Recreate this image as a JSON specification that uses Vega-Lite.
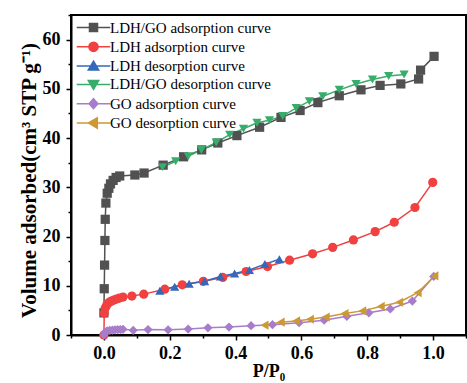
{
  "$schema": "https://vega.github.io/schema/vega-lite/v6.json",
  "width": 395,
  "height": 320,
  "autosize": {"type": "none"},
  "padding": {"left": 71, "top": 15, "right": 1, "bottom": 48},
  "background": "white",
  "config": {
    "view": {"stroke": "black", "strokeWidth": 2},
    "font": "Liberation Serif",
    "axis": {
      "domainColor": "black", "domainWidth": 2,
      "tickColor": "black", "tickWidth": 1.5,
      "grid": false,
      "labelFont": "Liberation Serif", "labelFontWeight": "bold", "labelFontSize": 18, "labelColor": "black",
      "titleFont": "Liberation Serif", "titleFontWeight": "bold", "titleFontSize": 18, "titleColor": "black"
    }
  },
  "data": {
    "values": [
      {"series": "LDH/GO adsorption curve", "x": 0.000, "y": 4.5},
      {"series": "LDH/GO adsorption curve", "x": 0.001, "y": 9.4},
      {"series": "LDH/GO adsorption curve", "x": 0.002, "y": 14.2},
      {"series": "LDH/GO adsorption curve", "x": 0.003, "y": 19.2},
      {"series": "LDH/GO adsorption curve", "x": 0.004, "y": 23.5},
      {"series": "LDH/GO adsorption curve", "x": 0.006, "y": 26.8},
      {"series": "LDH/GO adsorption curve", "x": 0.010, "y": 28.8},
      {"series": "LDH/GO adsorption curve", "x": 0.015, "y": 29.8},
      {"series": "LDH/GO adsorption curve", "x": 0.020, "y": 30.7},
      {"series": "LDH/GO adsorption curve", "x": 0.028, "y": 31.4},
      {"series": "LDH/GO adsorption curve", "x": 0.037, "y": 32.0},
      {"series": "LDH/GO adsorption curve", "x": 0.048, "y": 32.3},
      {"series": "LDH/GO adsorption curve", "x": 0.094, "y": 32.5},
      {"series": "LDH/GO adsorption curve", "x": 0.122, "y": 32.9},
      {"series": "LDH/GO adsorption curve", "x": 0.180, "y": 34.5},
      {"series": "LDH/GO adsorption curve", "x": 0.242, "y": 36.2},
      {"series": "LDH/GO adsorption curve", "x": 0.297, "y": 37.6},
      {"series": "LDH/GO adsorption curve", "x": 0.346, "y": 39.0},
      {"series": "LDH/GO adsorption curve", "x": 0.404, "y": 40.5},
      {"series": "LDH/GO adsorption curve", "x": 0.473, "y": 42.2},
      {"series": "LDH/GO adsorption curve", "x": 0.538, "y": 44.2},
      {"series": "LDH/GO adsorption curve", "x": 0.596, "y": 45.6},
      {"series": "LDH/GO adsorption curve", "x": 0.650, "y": 47.2},
      {"series": "LDH/GO adsorption curve", "x": 0.715, "y": 48.6},
      {"series": "LDH/GO adsorption curve", "x": 0.781, "y": 49.8},
      {"series": "LDH/GO adsorption curve", "x": 0.839, "y": 50.7},
      {"series": "LDH/GO adsorption curve", "x": 0.902, "y": 51.0},
      {"series": "LDH/GO adsorption curve", "x": 0.956, "y": 52.0},
      {"series": "LDH/GO adsorption curve", "x": 0.962, "y": 53.8},
      {"series": "LDH/GO adsorption curve", "x": 1.003, "y": 56.6},

      {"series": "LDH adsorption curve", "x": 0.000, "y": 0.0},
      {"series": "LDH adsorption curve", "x": 0.001, "y": 4.4},
      {"series": "LDH adsorption curve", "x": 0.004, "y": 5.5},
      {"series": "LDH adsorption curve", "x": 0.008, "y": 6.0},
      {"series": "LDH adsorption curve", "x": 0.012, "y": 6.4},
      {"series": "LDH adsorption curve", "x": 0.017, "y": 6.7},
      {"series": "LDH adsorption curve", "x": 0.023, "y": 6.9},
      {"series": "LDH adsorption curve", "x": 0.030, "y": 7.1},
      {"series": "LDH adsorption curve", "x": 0.038, "y": 7.3},
      {"series": "LDH adsorption curve", "x": 0.047, "y": 7.5},
      {"series": "LDH adsorption curve", "x": 0.058, "y": 7.7},
      {"series": "LDH adsorption curve", "x": 0.085, "y": 7.9},
      {"series": "LDH adsorption curve", "x": 0.121, "y": 8.3},
      {"series": "LDH adsorption curve", "x": 0.185, "y": 9.3},
      {"series": "LDH adsorption curve", "x": 0.238, "y": 10.2},
      {"series": "LDH adsorption curve", "x": 0.302, "y": 10.9},
      {"series": "LDH adsorption curve", "x": 0.361, "y": 11.7},
      {"series": "LDH adsorption curve", "x": 0.432, "y": 12.9},
      {"series": "LDH adsorption curve", "x": 0.497, "y": 13.9},
      {"series": "LDH adsorption curve", "x": 0.564, "y": 15.2},
      {"series": "LDH adsorption curve", "x": 0.634, "y": 16.5},
      {"series": "LDH adsorption curve", "x": 0.695, "y": 17.8},
      {"series": "LDH adsorption curve", "x": 0.758, "y": 19.3},
      {"series": "LDH adsorption curve", "x": 0.824, "y": 21.0},
      {"series": "LDH adsorption curve", "x": 0.882, "y": 22.9},
      {"series": "LDH adsorption curve", "x": 0.945, "y": 25.9},
      {"series": "LDH adsorption curve", "x": 0.999, "y": 31.0},

      {"series": "LDH desorption curve", "x": 0.170, "y": 9.0},
      {"series": "LDH desorption curve", "x": 0.215, "y": 9.8},
      {"series": "LDH desorption curve", "x": 0.259, "y": 10.4},
      {"series": "LDH desorption curve", "x": 0.306, "y": 10.9},
      {"series": "LDH desorption curve", "x": 0.354, "y": 11.9},
      {"series": "LDH desorption curve", "x": 0.397, "y": 12.5},
      {"series": "LDH desorption curve", "x": 0.442, "y": 13.2},
      {"series": "LDH desorption curve", "x": 0.489, "y": 14.4},
      {"series": "LDH desorption curve", "x": 0.533, "y": 15.4},

      {"series": "LDH/GO desorption curve", "x": 0.178, "y": 34.1},
      {"series": "LDH/GO desorption curve", "x": 0.218, "y": 35.3},
      {"series": "LDH/GO desorption curve", "x": 0.256, "y": 36.3},
      {"series": "LDH/GO desorption curve", "x": 0.296, "y": 37.6},
      {"series": "LDH/GO desorption curve", "x": 0.341, "y": 39.1},
      {"series": "LDH/GO desorption curve", "x": 0.382, "y": 40.7},
      {"series": "LDH/GO desorption curve", "x": 0.424, "y": 41.9},
      {"series": "LDH/GO desorption curve", "x": 0.465, "y": 43.1},
      {"series": "LDH/GO desorption curve", "x": 0.503, "y": 43.6},
      {"series": "LDH/GO desorption curve", "x": 0.543, "y": 44.5},
      {"series": "LDH/GO desorption curve", "x": 0.584, "y": 46.1},
      {"series": "LDH/GO desorption curve", "x": 0.624, "y": 47.5},
      {"series": "LDH/GO desorption curve", "x": 0.665, "y": 48.5},
      {"series": "LDH/GO desorption curve", "x": 0.715, "y": 49.8},
      {"series": "LDH/GO desorption curve", "x": 0.766, "y": 51.0},
      {"series": "LDH/GO desorption curve", "x": 0.816, "y": 51.9},
      {"series": "LDH/GO desorption curve", "x": 0.865, "y": 52.6},
      {"series": "LDH/GO desorption curve", "x": 0.912, "y": 52.9},

      {"series": "GO adsorption curve", "x": 0.000, "y": 0.0},
      {"series": "GO adsorption curve", "x": 0.004, "y": 0.6},
      {"series": "GO adsorption curve", "x": 0.010, "y": 0.85},
      {"series": "GO adsorption curve", "x": 0.018, "y": 0.95},
      {"series": "GO adsorption curve", "x": 0.026, "y": 1.0},
      {"series": "GO adsorption curve", "x": 0.034, "y": 1.05},
      {"series": "GO adsorption curve", "x": 0.042, "y": 1.1},
      {"series": "GO adsorption curve", "x": 0.050, "y": 1.1},
      {"series": "GO adsorption curve", "x": 0.058, "y": 1.15},
      {"series": "GO adsorption curve", "x": 0.089, "y": 0.95},
      {"series": "GO adsorption curve", "x": 0.134, "y": 1.1},
      {"series": "GO adsorption curve", "x": 0.195, "y": 1.05},
      {"series": "GO adsorption curve", "x": 0.256, "y": 1.2},
      {"series": "GO adsorption curve", "x": 0.316, "y": 1.45},
      {"series": "GO adsorption curve", "x": 0.380, "y": 1.6},
      {"series": "GO adsorption curve", "x": 0.447, "y": 1.9},
      {"series": "GO adsorption curve", "x": 0.512, "y": 2.1},
      {"series": "GO adsorption curve", "x": 0.593, "y": 2.5},
      {"series": "GO adsorption curve", "x": 0.669, "y": 3.0},
      {"series": "GO adsorption curve", "x": 0.738, "y": 3.8},
      {"series": "GO adsorption curve", "x": 0.805, "y": 4.5},
      {"series": "GO adsorption curve", "x": 0.870, "y": 5.3},
      {"series": "GO adsorption curve", "x": 0.937, "y": 6.9},
      {"series": "GO adsorption curve", "x": 1.002, "y": 11.9},

      {"series": "GO desorption curve", "x": 0.488, "y": 2.0},
      {"series": "GO desorption curve", "x": 0.537, "y": 2.6},
      {"series": "GO desorption curve", "x": 0.584, "y": 2.85},
      {"series": "GO desorption curve", "x": 0.626, "y": 3.2},
      {"series": "GO desorption curve", "x": 0.674, "y": 3.65},
      {"series": "GO desorption curve", "x": 0.731, "y": 4.35},
      {"series": "GO desorption curve", "x": 0.785, "y": 4.9},
      {"series": "GO desorption curve", "x": 0.841, "y": 5.8},
      {"series": "GO desorption curve", "x": 0.897, "y": 6.65},
      {"series": "GO desorption curve", "x": 0.953, "y": 8.6},
      {"series": "GO desorption curve", "x": 1.004, "y": 12.0}
    ]
  },
  "encoding": {
    "x": {
      "field": "x", "type": "quantitative",
      "scale": {"domain": [-0.1, 1.1], "nice": false, "zero": false},
      "axis": {
        "title": "P/P₀",
        "values": [-0.1, 0, 0.1, 0.2, 0.3, 0.4, 0.5, 0.6, 0.7, 0.8, 0.9, 1.0, 1.1],
        "labelExpr": "(abs(round(datum.value*10)) % 2 == 0) && datum.value > -0.05 && datum.value < 1.05 ? format(datum.value, '.1f') : ''",
        "tickSize": {"condition": {"test": "abs(round(datum.value*10)) % 2 == 1", "value": 3}, "value": 5},
        "labelPadding": 4,
        "titlePadding": 0
      }
    },
    "y": {
      "field": "y", "type": "quantitative",
      "scale": {"domain": [0, 65], "nice": false},
      "axis": {
        "title": "Volume adsorbed(cm³ STP g⁻¹)",
        "titleFontSize": 21,
        "titleY": 165,
        "values": [0, 5, 10, 15, 20, 25, 30, 35, 40, 45, 50, 55, 60, 65],
        "labelExpr": "round(datum.value) % 10 == 0 ? datum.label : ''",
        "tickSize": {"condition": {"test": "round(datum.value) % 10 != 0", "value": 3}, "value": 5},
        "labelPadding": 6,
        "titlePadding": 3
      }
    },
    "color": {
      "field": "series", "type": "nominal",
      "scale": {
        "domain": ["LDH/GO adsorption curve", "LDH adsorption curve", "LDH desorption curve", "LDH/GO desorption curve", "GO adsorption curve", "GO desorption curve"],
        "range": ["#515151", "#F14040", "#3567BA", "#37AD6B", "#A77DCB", "#CC9933"]
      },
      "legend": {
        "title": null,
        "orient": "none",
        "legendX": 15,
        "legendY": 5,
        "padding": 0,
        "symbolSize": 64,
        "labelFont": "Liberation Serif",
        "labelFontSize": 15,
        "labelColor": "black",
        "labelLimit": 400,
        "labelOffset": 9,
        "rowPadding": 2.3,
        "encode": {
          "symbols": {
            "update": {
              "shape": {"signal": "datum.value == 'LDH/GO adsorption curve' ? 'M-4.2,0H4.2M-1,-1H1V1H-1Z' : datum.value == 'LDH adsorption curve' ? 'M-4.2,0H4.2M1.15,0A1.15,1.15,0,1,1,-1.15,0A1.15,1.15,0,1,1,1.15,0Z' : datum.value == 'LDH desorption curve' ? 'M-4.2,0H4.2M0,-1.25L1.3,0.95H-1.3Z' : datum.value == 'LDH/GO desorption curve' ? 'M-4.2,0H4.2M0,1.25L1.3,-0.95H-1.3Z' : datum.value == 'GO adsorption curve' ? 'M-4.2,0H4.2M0,-1.25L1.1,0L0,1.25L-1.1,0Z' : 'M-4.2,0H4.2M-1.25,0L0.95,-1.3V1.3Z'"},
              "fill": {"signal": "scale('color', datum.value)"},
              "stroke": {"signal": "scale('color', datum.value)"},
              "strokeWidth": {"value": 1.5},
              "opacity": {"value": 1}
            }
          }
        }
      }
    }
  },
  "layer": [
    {
      "mark": {"type": "line", "strokeWidth": 1.5}
    },
    {
      "mark": {"type": "point", "filled": true, "opacity": 1, "size": 85},
      "encoding": {
        "shape": {
          "field": "series", "type": "nominal",
          "scale": {
            "domain": ["GO desorption curve", "GO adsorption curve", "LDH/GO desorption curve", "LDH desorption curve", "LDH adsorption curve", "LDH/GO adsorption curve"],
            "range": ["triangle-left", "diamond", "triangle-down", "triangle-up", "circle", "square"]
          },
          "legend": null
        }
      }
    }
  ]
}
